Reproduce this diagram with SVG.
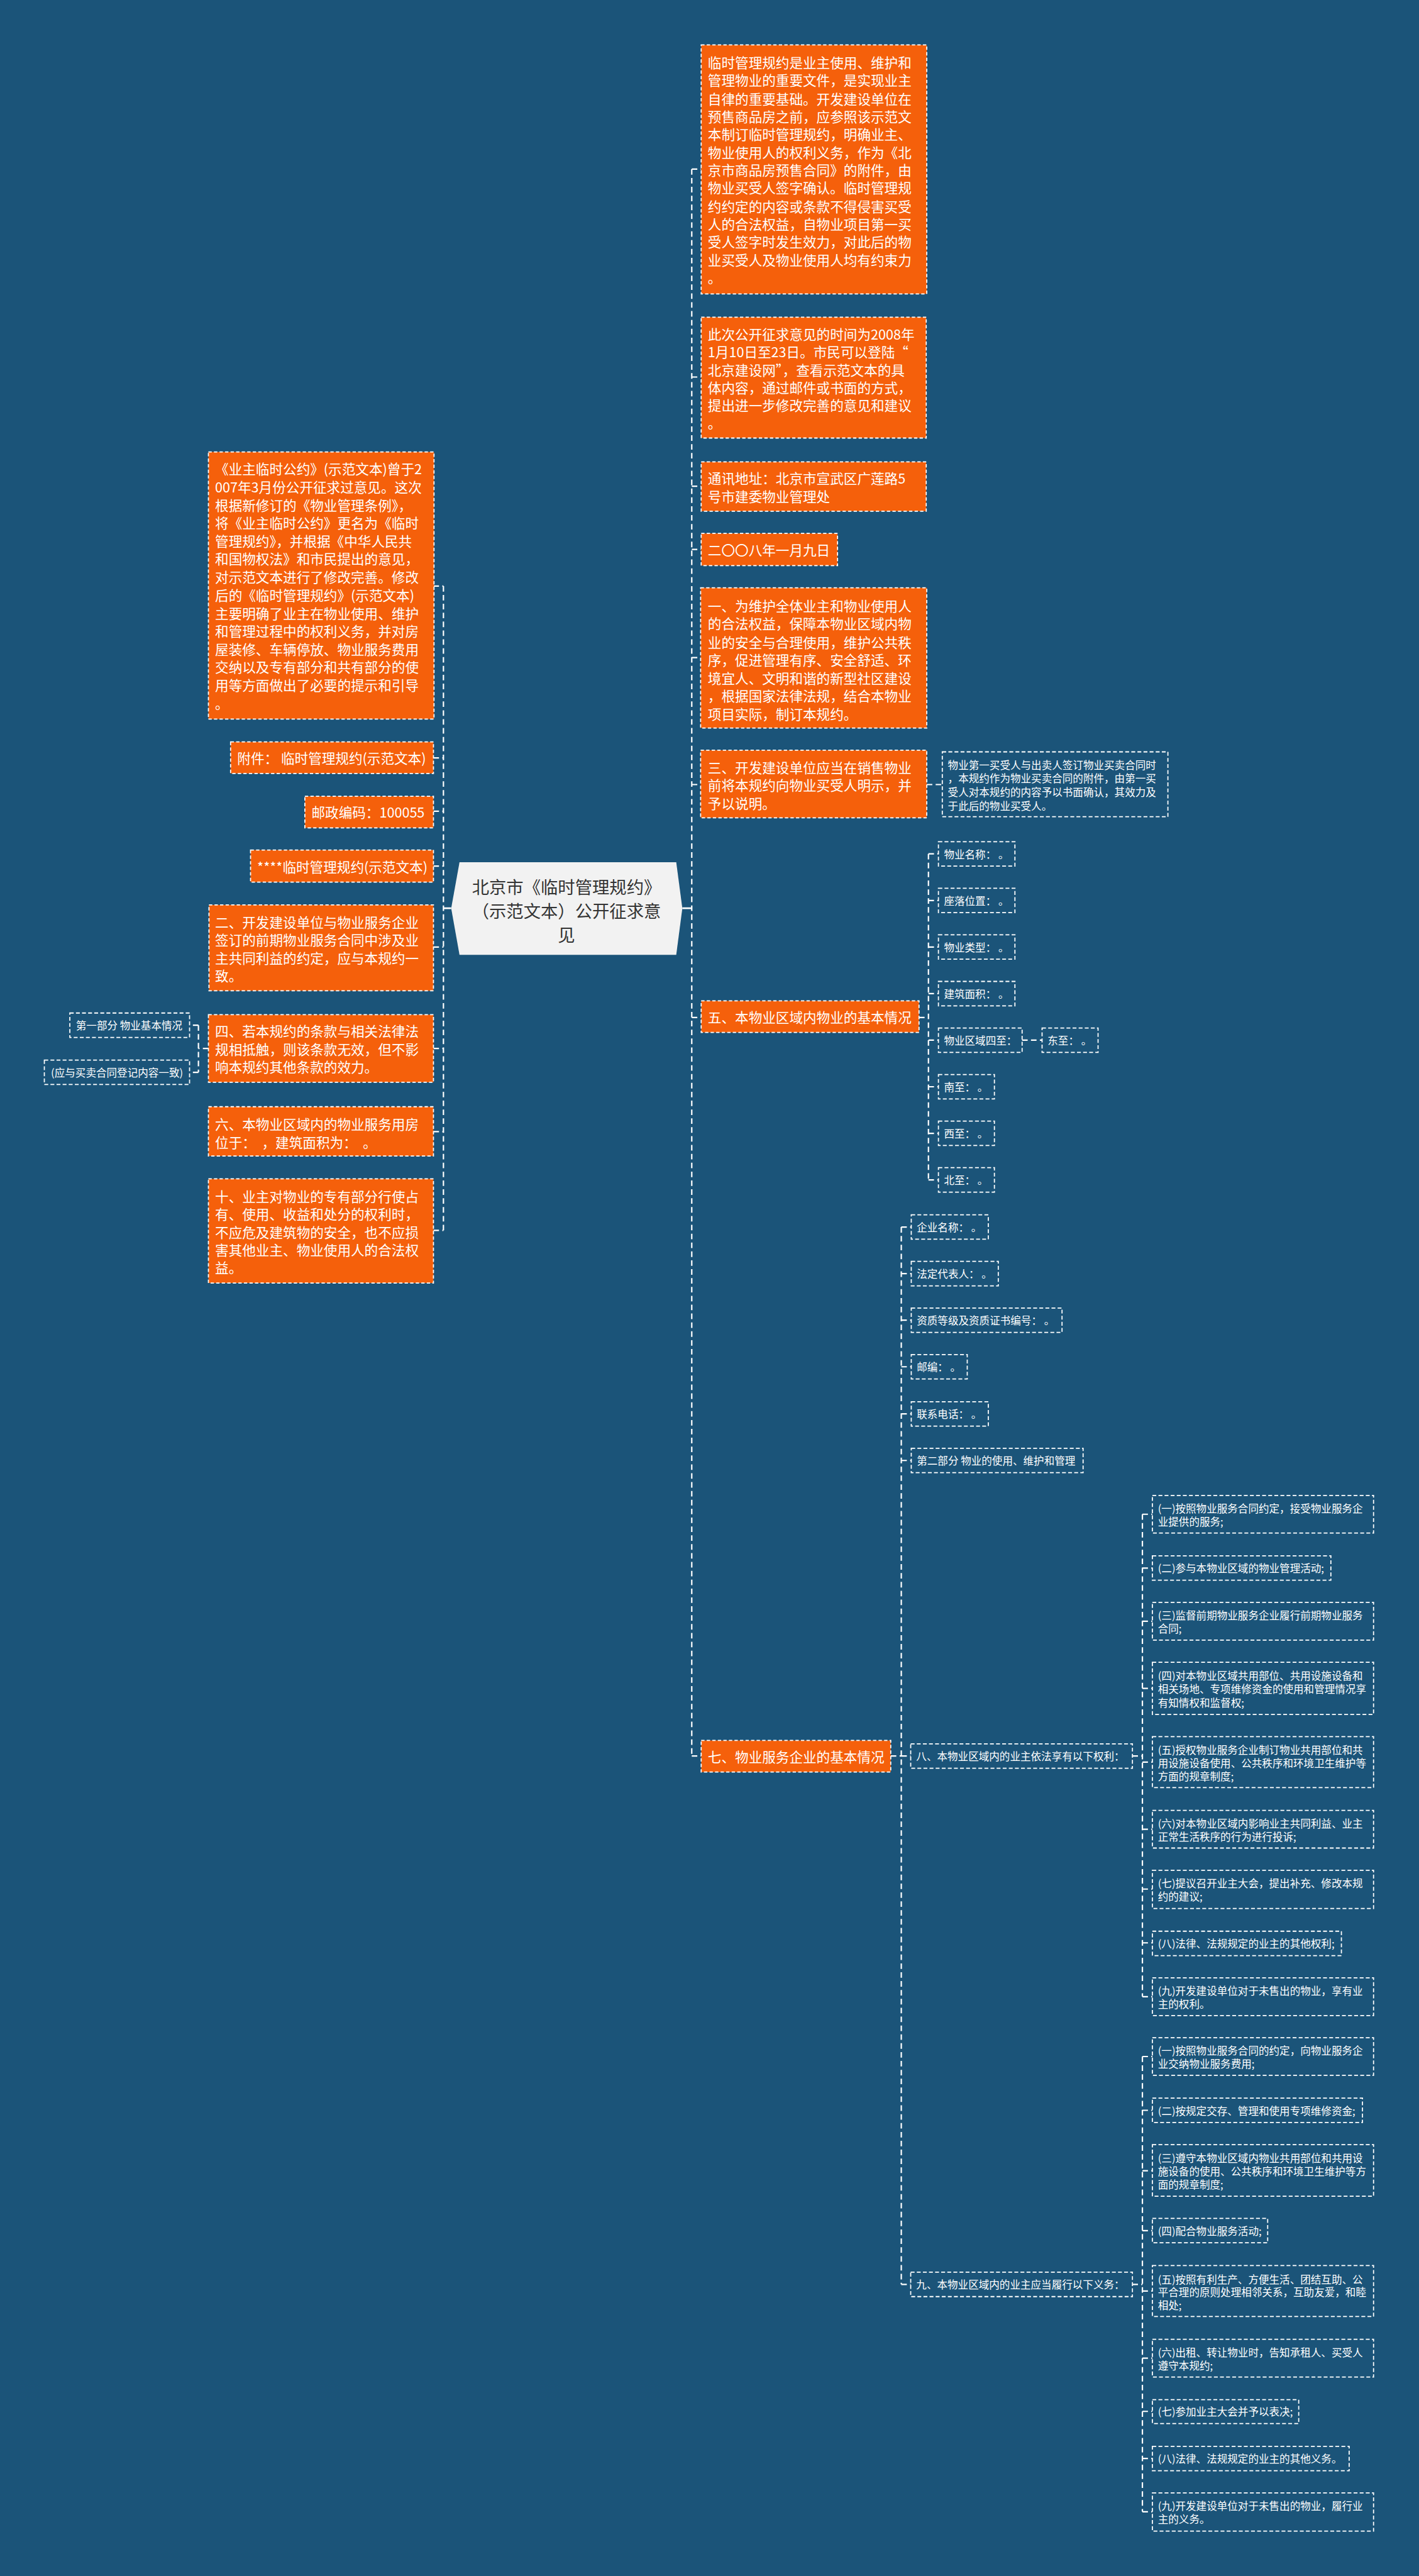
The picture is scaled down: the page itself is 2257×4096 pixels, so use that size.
<svg xmlns="http://www.w3.org/2000/svg" width="2257" height="4096" viewBox="0 0 2257 4096">
<style>
.o{fill:#f5600b;stroke:#fff;stroke-width:2;stroke-dasharray:6 4}
.w{fill:none;stroke:#fff;stroke-width:2;stroke-dasharray:7 4}
.c{fill:none;stroke:#fff;stroke-width:2.5;stroke-dasharray:10 6}
.cs{fill:none;stroke:#fff;stroke-width:3}
text{font-family:"Noto Sans CJK SC","Noto Sans",sans-serif;fill:#fff;dominant-baseline:central}
.t{font-size:24.5px}
.s{font-size:18.8px}
.m{font-size:31px;fill:#333;text-anchor:middle}
</style>
<rect x="0" y="0" width="2257" height="4096" fill="#1b5479"/>
<g transform="scale(0.88164)">
<g id="connectors">
<path class="cs" d="M800,1638 H814 M1231,1638 H1248"/>
<path class="c" d="M800,1057 V2219 M782,1057 H800 M782,1367 H800 M782,1463 H800 M782,1562 H800 M782,1708 H800 M782,1891 H800 M782,2041 H800 M782,2219 H800"/>
<path class="c" d="M376,1891 H358 M358,1849 V1934 M358,1849 H342 M358,1934 H342"/>
<path class="c" d="M1248,305 V3167 M1248,305 H1265 M1248,680 H1265 M1248,877 H1265 M1248,991 H1265 M1248,1186 H1264 M1248,1415 H1264 M1248,1835 H1265 M1248,3167 H1265"/>
<path class="c" d="M1672,1415 H1700"/>
<path class="c" d="M1658,1835 H1675 M1675,1540 V2128 M1675,1540 H1693 M1675,1624 H1693 M1675,1708 H1693 M1675,1792 H1693 M1675,1876 H1693 M1675,1960 H1693 M1675,2044 H1693 M1675,2128 H1693 M1844,1876 H1880"/>
<path class="c" d="M1607,3167 H1626 M1626,2213 V4120 M1626,2213 H1644 M1626,2297 H1644 M1626,2381 H1644 M1626,2465 H1644 M1626,2550 H1644 M1626,2634 H1644 M1626,3167 H1643 M1626,4120 H1643"/>
<path class="c" d="M2043,3167 H2061 M2061,2731 V3601 M2061,2731 H2079 M2061,2828 H2079 M2061,2924 H2079 M2061,3045 H2079 M2061,3178 H2079 M2061,3299 H2079 M2061,3407 H2079 M2061,3504 H2079 M2061,3601 H2079"/>
<path class="c" d="M2043,4120 H2061 M2061,3709 V4530 M2061,3709 H2079 M2061,3806 H2079 M2061,3915 H2079 M2061,4023 H2079 M2061,4132 H2079 M2061,4253 H2079 M2061,4349 H2079 M2061,4434 H2079 M2061,4530 H2079"/>
</g>

<g id="center">
<polygon points="829,1555 1220,1555 1231,1638 1220,1722 829,1722 814,1638" fill="#f2f2f2"/>
<text class="m" x="1022" y="1598">北京市《临时管理规约》</text>
<text class="m" x="1022" y="1641">（示范文本）公开征求意</text>
<text class="m" x="1022" y="1684">见</text>
</g>

<!-- right side orange -->
<g id="r1">
<rect class="o" x="1265" y="81" width="407" height="449"/>
<text class="t" x="1277" y="112">临时管理规约是业主使用、维护和</text>
<text class="t" x="1277" y="144">管理物业的重要文件，是实现业主</text>
<text class="t" x="1277" y="177">自律的重要基础。开发建设单位在</text>
<text class="t" x="1277" y="209">预售商品房之前，应参照该示范文</text>
<text class="t" x="1277" y="241">本制订临时管理规约，明确业主、</text>
<text class="t" x="1277" y="274">物业使用人的权利义务，作为《北</text>
<text class="t" x="1277" y="306">京市商品房预售合同》的附件，由</text>
<text class="t" x="1277" y="338">物业买受人签字确认。临时管理规</text>
<text class="t" x="1277" y="371">约约定的内容或条款不得侵害买受</text>
<text class="t" x="1277" y="403">人的合法权益，自物业项目第一买</text>
<text class="t" x="1277" y="435">受人签字时发生效力，对此后的物</text>
<text class="t" x="1277" y="468">业买受人及物业使用人均有约束力</text>
<text class="t" x="1277" y="500">。</text>
</g>
<g id="r2">
<rect class="o" x="1265" y="572" width="406" height="218"/>
<text class="t" x="1277" y="602">此次公开征求意见的时间为2008年</text>
<text class="t" x="1277" y="634">1月10日至23日。市民可以登陆“</text>
<text class="t" x="1277" y="666">北京建设网”，查看示范文本的具</text>
<text class="t" x="1277" y="698">体内容，通过邮件或书面的方式，</text>
<text class="t" x="1277" y="730">提出进一步修改完善的意见和建议</text>
<text class="t" x="1277" y="762">。</text>
</g>
<g id="r3">
<rect class="o" x="1265" y="833" width="406" height="89"/>
<text class="t" x="1277" y="861">通讯地址：北京市宣武区广莲路5</text>
<text class="t" x="1277" y="894">号市建委物业管理处</text>
</g>
<g id="r4">
<rect class="o" x="1265" y="962" width="246" height="58"/>
<text class="t" x="1277" y="991">二〇〇八年一月九日</text>
</g>
<g id="r5">
<rect class="o" x="1264" y="1060" width="408" height="253"/>
<text class="t" x="1277" y="1092">一、为维护全体业主和物业使用人</text>
<text class="t" x="1277" y="1124">的合法权益，保障本物业区域内物</text>
<text class="t" x="1277" y="1157">业的安全与合理使用，维护公共秩</text>
<text class="t" x="1277" y="1189">序，促进管理有序、安全舒适、环</text>
<text class="t" x="1277" y="1222">境宜人、文明和谐的新型社区建设</text>
<text class="t" x="1277" y="1254">，根据国家法律法规，结合本物业</text>
<text class="t" x="1277" y="1287">项目实际，制订本规约。</text>
</g>
<g id="r6">
<rect class="o" x="1264" y="1353" width="408" height="122"/>
<text class="t" x="1277" y="1383">三、开发建设单位应当在销售物业</text>
<text class="t" x="1277" y="1415">前将本规约向物业买受人明示，并</text>
<text class="t" x="1277" y="1448">予以说明。</text>
</g>
<g id="r6n">
<rect class="w" x="1700" y="1356" width="407" height="117"/>
<text class="s" x="1710" y="1379">物业第一买受人与出卖人签订物业买卖合同时</text>
<text class="s" x="1710" y="1403">，本规约作为物业买卖合同的附件，由第一买</text>
<text class="s" x="1710" y="1428">受人对本规约的内容予以书面确认，其效力及</text>
<text class="s" x="1710" y="1453">于此后的物业买受人。</text>
</g>
<g id="r7">
<rect class="o" x="1265" y="1805" width="393" height="57"/>
<text class="t" x="1277" y="1834">五、本物业区域内物业的基本情况</text>
</g>
<g id="r7a"><rect class="w" x="1693" y="1518" width="138" height="44"/><text class="s" x="1703" y="1540">物业名称： 。</text></g>
<g id="r7b"><rect class="w" x="1693" y="1602" width="138" height="44"/><text class="s" x="1703" y="1624">座落位置： 。</text></g>
<g id="r7c"><rect class="w" x="1693" y="1686" width="138" height="44"/><text class="s" x="1703" y="1708">物业类型： 。</text></g>
<g id="r7d"><rect class="w" x="1693" y="1770" width="138" height="44"/><text class="s" x="1703" y="1792">建筑面积： 。</text></g>
<g id="r7e"><rect class="w" x="1693" y="1854" width="151" height="44"/><text class="s" x="1703" y="1876">物业区域四至：</text></g>
<g id="r7e1"><rect class="w" x="1880" y="1854" width="101" height="44"/><text class="s" x="1890" y="1876">东至： 。</text></g>
<g id="r7f"><rect class="w" x="1693" y="1938" width="101" height="44"/><text class="s" x="1703" y="1960">南至： 。</text></g>
<g id="r7g"><rect class="w" x="1693" y="2022" width="101" height="44"/><text class="s" x="1703" y="2044">西至： 。</text></g>
<g id="r7h"><rect class="w" x="1693" y="2106" width="101" height="44"/><text class="s" x="1703" y="2128">北至： 。</text></g>

<g id="r8">
<rect class="o" x="1265" y="3139" width="342" height="57"/>
<text class="t" x="1277" y="3167">七、物业服务企业的基本情况</text>
</g>
<g id="r8a"><rect class="w" x="1644" y="2191" width="139" height="44"/><text class="s" x="1654" y="2213">企业名称： 。</text></g>
<g id="r8b"><rect class="w" x="1644" y="2275" width="157" height="44"/><text class="s" x="1654" y="2297">法定代表人： 。</text></g>
<g id="r8c"><rect class="w" x="1644" y="2359" width="272" height="44"/><text class="s" x="1654" y="2381">资质等级及资质证书编号： 。</text></g>
<g id="r8d"><rect class="w" x="1644" y="2443" width="101" height="44"/><text class="s" x="1654" y="2465">邮编： 。</text></g>
<g id="r8e"><rect class="w" x="1644" y="2528" width="139" height="44"/><text class="s" x="1654" y="2550">联系电话： 。</text></g>
<g id="r8f"><rect class="w" x="1644" y="2612" width="310" height="44"/><text class="s" x="1654" y="2634">第二部分 物业的使用、维护和管理</text></g>
<g id="r8g"><rect class="w" x="1643" y="3145" width="400" height="44"/><text class="s" x="1653" y="3167">八、本物业区域内的业主依法享有以下权利：</text></g>
<g id="r8h"><rect class="w" x="1643" y="4098" width="400" height="44"/><text class="s" x="1653" y="4120">九、本物业区域内的业主应当履行以下义务：</text></g>

<g id="q1"><rect class="w" x="2079" y="2697" width="399" height="68"/><text class="s" x="2089" y="2720">(一)按照物业服务合同约定，接受物业服务企</text><text class="s" x="2089" y="2744">业提供的服务;</text></g>
<g id="q2"><rect class="w" x="2079" y="2806" width="322" height="44"/><text class="s" x="2089" y="2828">(二)参与本物业区域的物业管理活动;</text></g>
<g id="q3"><rect class="w" x="2079" y="2890" width="399" height="68"/><text class="s" x="2089" y="2913">(三)监督前期物业服务企业履行前期物业服务</text><text class="s" x="2089" y="2937">合同;</text></g>
<g id="q4"><rect class="w" x="2079" y="2998" width="399" height="94"/><text class="s" x="2089" y="3022">(四)对本物业区域共用部位、共用设施设备和</text><text class="s" x="2089" y="3046">相关场地、专项维修资金的使用和管理情况享</text><text class="s" x="2089" y="3070">有知情权和监督权;</text></g>
<g id="q5"><rect class="w" x="2079" y="3132" width="399" height="92"/><text class="s" x="2089" y="3156">(五)授权物业服务企业制订物业共用部位和共</text><text class="s" x="2089" y="3179">用设施设备使用、公共秩序和环境卫生维护等</text><text class="s" x="2089" y="3203">方面的规章制度;</text></g>
<g id="q6"><rect class="w" x="2079" y="3265" width="399" height="68"/><text class="s" x="2089" y="3288">(六)对本物业区域内影响业主共同利益、业主</text><text class="s" x="2089" y="3312">正常生活秩序的行为进行投诉;</text></g>
<g id="q7"><rect class="w" x="2079" y="3373" width="399" height="69"/><text class="s" x="2089" y="3396">(七)提议召开业主大会，提出补充、修改本规</text><text class="s" x="2089" y="3420">约的建议;</text></g>
<g id="q8"><rect class="w" x="2079" y="3483" width="341" height="44"/><text class="s" x="2089" y="3505">(八)法律、法规规定的业主的其他权利;</text></g>
<g id="q9"><rect class="w" x="2079" y="3567" width="399" height="68"/><text class="s" x="2089" y="3590">(九)开发建设单位对于未售出的物业，享有业</text><text class="s" x="2089" y="3614">主的权利。</text></g>

<g id="d1"><rect class="w" x="2079" y="3675" width="399" height="68"/><text class="s" x="2089" y="3698">(一)按照物业服务合同的约定，向物业服务企</text><text class="s" x="2089" y="3722">业交纳物业服务费用;</text></g>
<g id="d2"><rect class="w" x="2079" y="3784" width="379" height="44"/><text class="s" x="2089" y="3806">(二)按规定交存、管理和使用专项维修资金;</text></g>
<g id="d3"><rect class="w" x="2079" y="3868" width="399" height="93"/><text class="s" x="2089" y="3892">(三)遵守本物业区域内物业共用部位和共用设</text><text class="s" x="2089" y="3915">施设备的使用、公共秩序和环境卫生维护等方</text><text class="s" x="2089" y="3939">面的规章制度;</text></g>
<g id="d4"><rect class="w" x="2079" y="4001" width="208" height="44"/><text class="s" x="2089" y="4023">(四)配合物业服务活动;</text></g>
<g id="d5"><rect class="w" x="2079" y="4086" width="399" height="92"/><text class="s" x="2089" y="4110">(五)按照有利生产、方便生活、团结互助、公</text><text class="s" x="2089" y="4133">平合理的原则处理相邻关系，互助友爱，和睦</text><text class="s" x="2089" y="4157">相处;</text></g>
<g id="d6"><rect class="w" x="2079" y="4219" width="399" height="68"/><text class="s" x="2089" y="4242">(六)出租、转让物业时，告知承租人、买受人</text><text class="s" x="2089" y="4266">遵守本规约;</text></g>
<g id="d7"><rect class="w" x="2079" y="4328" width="264" height="43"/><text class="s" x="2089" y="4349">(七)参加业主大会并予以表决;</text></g>
<g id="d8"><rect class="w" x="2079" y="4412" width="355" height="44"/><text class="s" x="2089" y="4434">(八)法律、法规规定的业主的其他义务。</text></g>
<g id="d9"><rect class="w" x="2079" y="4496" width="399" height="69"/><text class="s" x="2089" y="4519">(九)开发建设单位对于未售出的物业，履行业</text><text class="s" x="2089" y="4543">主的义务。</text></g>

<!-- left side -->
<g id="l1">
<rect class="o" x="376" y="815" width="407" height="482"/>
<text class="t" x="388" y="845">《业主临时公约》(示范文本)曾于2</text>
<text class="t" x="388" y="877">007年3月份公开征求过意见。这次</text>
<text class="t" x="388" y="910">根据新修订的《物业管理条例》，</text>
<text class="t" x="388" y="942">将《业主临时公约》更名为《临时</text>
<text class="t" x="388" y="975">管理规约》，并根据《中华人民共</text>
<text class="t" x="388" y="1007">和国物权法》和市民提出的意见，</text>
<text class="t" x="388" y="1040">对示范文本进行了修改完善。修改</text>
<text class="t" x="388" y="1072">后的《临时管理规约》(示范文本)</text>
<text class="t" x="388" y="1105">主要明确了业主在物业使用、维护</text>
<text class="t" x="388" y="1137">和管理过程中的权利义务，并对房</text>
<text class="t" x="388" y="1170">屋装修、车辆停放、物业服务费用</text>
<text class="t" x="388" y="1202">交纳以及专有部分和共有部分的使</text>
<text class="t" x="388" y="1235">用等方面做出了必要的提示和引导</text>
<text class="t" x="388" y="1267">。</text>
</g>
<g id="l2"><rect class="o" x="416" y="1338" width="366" height="57"/><text class="t" x="428" y="1366">附件： 临时管理规约(示范文本)</text></g>
<g id="l3"><rect class="o" x="550" y="1436" width="232" height="57"/><text class="t" x="562" y="1464">邮政编码：100055</text></g>
<g id="l4"><rect class="o" x="452" y="1533" width="330" height="58"/><text class="t" x="464" y="1562">****临时管理规约(示范文本)</text></g>
<g id="l5">
<rect class="o" x="377" y="1632" width="405" height="155"/>
<text class="t" x="388" y="1662">二、开发建设单位与物业服务企业</text>
<text class="t" x="388" y="1694">签订的前期物业服务合同中涉及业</text>
<text class="t" x="388" y="1727">主共同利益的约定，应与本规约一</text>
<text class="t" x="388" y="1759">致。</text>
</g>
<g id="l6">
<rect class="o" x="376" y="1830" width="406" height="122"/>
<text class="t" x="388" y="1859">四、若本规约的条款与相关法律法</text>
<text class="t" x="388" y="1891">规相抵触，则该条款无效，但不影</text>
<text class="t" x="388" y="1923">响本规约其他条款的效力。</text>
</g>
<g id="l6a"><rect class="w" x="126" y="1827" width="216" height="44"/><text class="s" x="137" y="1849">第一部分 物业基本情况</text></g>
<g id="l6b"><rect class="w" x="80" y="1912" width="262" height="44"/><text class="s" x="92" y="1934">(应与买卖合同登记内容一致)</text></g>
<g id="l7">
<rect class="o" x="376" y="1996" width="406" height="89"/>
<text class="t" x="388" y="2026">六、本物业区域内的物业服务用房</text>
<text class="t" x="388" y="2059" xml:space="preserve">位于：  ，建筑面积为：  。</text>
</g>
<g id="l8">
<rect class="o" x="376" y="2126" width="406" height="188"/>
<text class="t" x="388" y="2157">十、业主对物业的专有部分行使占</text>
<text class="t" x="388" y="2189">有、使用、收益和处分的权利时，</text>
<text class="t" x="388" y="2221">不应危及建筑物的安全，也不应损</text>
<text class="t" x="388" y="2253">害其他业主、物业使用人的合法权</text>
<text class="t" x="388" y="2285">益。</text>
</g>
</g>
</svg>
